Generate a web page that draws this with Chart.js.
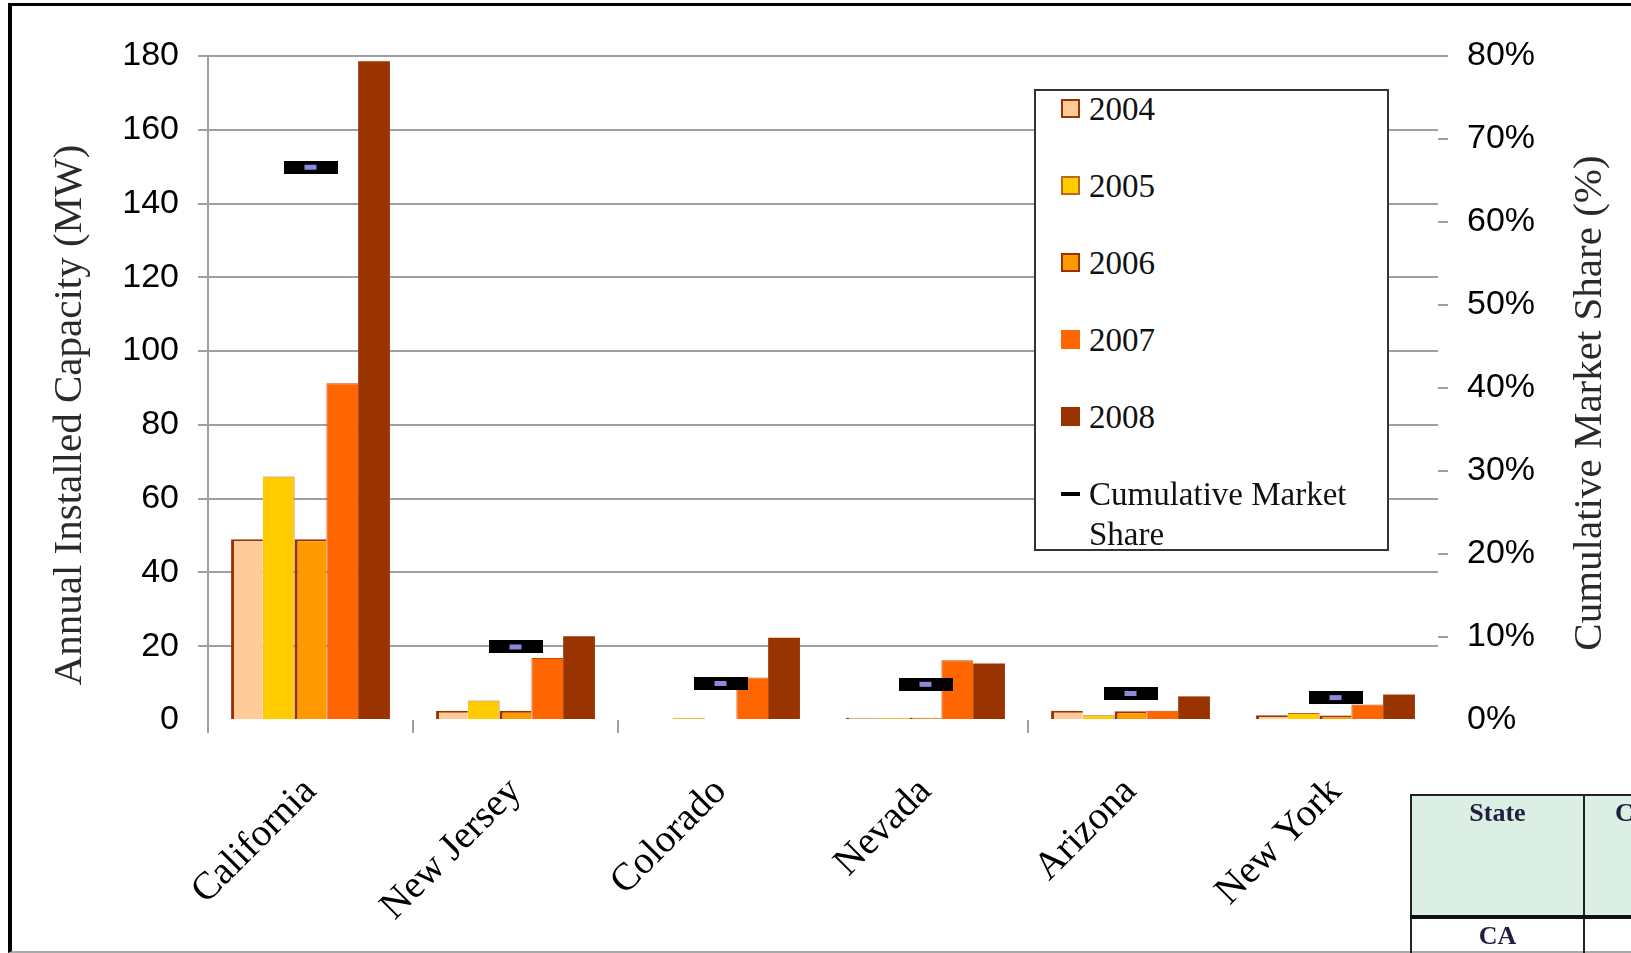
<!DOCTYPE html>
<html>
<head>
<meta charset="utf-8">
<title>Annual Installed Capacity and Cumulative Market Share by State</title>
<script src="https://cdn.jsdelivr.net/npm/chart.js@4.4.0/dist/chart.umd.min.js"></script>
<style>
    html, body { margin: 0; padding: 0; background: #fff; overflow: hidden; }
    #page { position: relative; width: 1631px; height: 953px; overflow: hidden; }
    #frame {
        position: absolute; left: 8px; top: 3px; width: 1700px; height: 945px;
        border-left: 4px solid #000; border-top: 3px solid #000; border-bottom: 2px solid #aaa;
    }
    #chart { position: absolute; left: 0; top: 0; }

    /* legend box sits inside the plot, over the gridlines */
    #legend {
        position: absolute; left: 1034px; top: 89px; width: 351px; height: 458px;
        border: 2px solid #333; background: #fff;
        font-family: 'Liberation Serif', 'Times New Roman', serif; font-size: 33px; color: #111;
    }
    .legend-item { position: absolute; left: 25px; display: flex; align-items: flex-start; }
    .legend-swatch { width: 19px; height: 19px; box-sizing: border-box; margin-top: 10px; margin-right: 9px; flex: none; }
    .legend-line { width: 19px; height: 4px; margin-top: 18px; margin-right: 9px; background: #000; flex: none; }
    .legend-label { line-height: 40px; width: 280px; }

    /* start of the state table below the chart */
    #stateTable {
        position: absolute; left: 1410px; top: 794px; width: 373px; border-collapse: collapse;
        font-family: 'Liberation Serif', 'Times New Roman', serif; font-weight: bold;
        font-size: 26px; color: #1f1f3f; table-layout: fixed;
    }
    #stateTable td { border: 2px solid #222; text-align: center; vertical-align: top; padding: 2px 0 0 0; }
    #stateTable tr.head td { background: #dcefe5; height: 117px; border-bottom: 4px solid #111; }
    #stateTable tr.row td { height: 40px; }
    #stateTable td.cut { text-align: left; padding-left: 30px; }
</style>
</head>
<body>
<div id="page">
    <div id="frame"></div>
    <canvas id="chart" width="1631" height="953"></canvas>
    <div id="legend"></div>
    <table id="stateTable">
        <colgroup><col style="width:173px"><col style="width:200px"></colgroup>
        <tr class="head"><td>State</td><td class="cut">C</td></tr>
        <tr class="row"><td>CA</td><td></td></tr>
    </table>
</div>
<script>
// ---- data -------------------------------------------------------------
const categories = ['California', 'New Jersey', 'Colorado', 'Nevada', 'Arizona', 'New York'];
const years = ['2004', '2005', '2006', '2007', '2008'];

// annual installed capacity, MW
const capacity2004 = [49, 2.5, 0, 0.6, 2.5, 1.3];
const capacity2005 = [66, 5.3, 0.6, 0.6, 1.3, 1.9];
const capacity2006 = [49, 2.5, 0, 0.6, 2.4, 1.2];
const capacity2007 = [91.3, 16.8, 11.5, 16.2, 2.5, 4.2];
const capacity2008 = [178.6, 22.7, 22.3, 15.3, 6.4, 6.9];

// cumulative market share, %
const marketShare = [66.6, 8.8, 4.4, 4.3, 3.2, 2.7];

// axis ticks
const capacityTicks = [0, 20, 40, 60, 80, 100, 120, 140, 160, 180];
const shareTicks = [0, 10, 20, 30, 40, 50, 60, 70, 80];

// ---- styles -----------------------------------------------------------
const GRID_GREY = '#a0a0a0';
const SERIF = "'Liberation Serif', 'Times New Roman', serif";
const SANS = "'Liberation Sans', Arial, sans-serif";

const barStyles = [
    { fill: '#ffcc99', border: '#993300', width: { top: 2, left: 3, right: 0, bottom: 0 } },
    { fill: '#ffcc00', border: '#c0651a', width: { top: 1, left: 0, right: 1, bottom: 0 } },
    { fill: '#ff9900', border: '#993300', width: { top: 2, left: 3, right: 0, bottom: 0 } },
    { fill: '#ff6600', border: '#cc4400', width: { top: 1, left: 1, right: 0, bottom: 0 } },
    { fill: '#993300', border: '#993300', width: 0 }
];

/**
 * Black dash with a small lavender core, used as the market share marker
 */
function makeShareMarker() {
    const c = document.createElement('canvas');
    c.width = 54;
    c.height = 13;
    const g = c.getContext('2d');
    g.fillStyle = '#000';
    g.fillRect(0, 0, 54, 13);
    g.fillStyle = '#8a8ad8';
    g.fillRect(21, 4, 12, 5);
    return c;
}

/**
 * Rotated axis titles, placed off-centre like the original layout
 */
const axisTitlePlugin = {
    id: 'axisTitles',
    afterDraw(chart, args, opts) {
        const ctx = chart.ctx;
        opts.items.forEach(item => {
            ctx.save();
            ctx.translate(item.x, item.y);
            ctx.rotate(-Math.PI / 2);
            ctx.font = opts.font;
            ctx.fillStyle = opts.color;
            ctx.textAlign = 'center';
            ctx.textBaseline = 'middle';
            ctx.fillText(item.text, 0, 0);
            ctx.restore();
        });
    }
};

const capacitySeries = [capacity2004, capacity2005, capacity2006, capacity2007, capacity2008];

const barDatasets = capacitySeries.map((values, i) => ({
    type: 'bar',
    label: years[i],
    data: values,
    yAxisID: 'y',
    order: 1,
    backgroundColor: barStyles[i].fill,
    borderColor: barStyles[i].border,
    borderWidth: barStyles[i].width,
    borderSkipped: false,
    categoryPercentage: 0.775,
    barPercentage: 1.0
}));

const shareDataset = {
    type: 'line',
    label: 'Cumulative Market Share',
    data: marketShare,
    yAxisID: 'y1',
    order: 0,
    showLine: false,
    pointStyle: makeShareMarker(),
    pointRadius: 6,
    borderColor: '#000',
    backgroundColor: '#000'
};

const gridNoZero = ctx => (ctx.tick && ctx.tick.value === 0) ? 'transparent' : GRID_GREY;
// category boundaries that carry a small tick below the axis
const boundaryTicks = [0, 1, 2, 4];

const chart = new Chart(document.getElementById('chart'), {
    data: {
        labels: categories,
        datasets: [...barDatasets, shareDataset]
    },
    options: {
        responsive: false,
        animation: false,
        events: [],
        devicePixelRatio: 1,
        layout: { padding: { top: 56, left: 0, right: 0, bottom: 0 } },
        plugins: {
            legend: { display: false },
            tooltip: { enabled: false },
            axisTitles: {
                font: '41px ' + SERIF,
                color: '#2a2a2a',
                items: [
                    { text: 'Annual Installed Capacity (MW)', x: 70, y: 415 },
                    { text: 'Cumulative Market Share (%)', x: 1590, y: 403 }
                ]
            }
        },
        scales: {
            x: {
                offset: true,
                grid: {
                    offset: true,
                    drawOnChartArea: false,
                    drawTicks: true,
                    tickLength: 13,
                    lineWidth: 2,
                    color: ctx => boundaryTicks.includes(ctx.index) ? GRID_GREY : 'transparent'
                },
                border: { display: false },
                ticks: {
                    autoSkip: false,
                    maxRotation: 45,
                    minRotation: 45,
                    padding: 36,
                    color: '#000',
                    font: { family: SERIF, size: 39 }
                },
                afterFit: scale => { scale.height = 233; }
            },
            y: {
                position: 'left',
                min: capacityTicks[0],
                max: capacityTicks[capacityTicks.length - 1],
                afterBuildTicks: scale => { scale.ticks = capacityTicks.map(v => ({ value: v })); },
                grid: { color: gridNoZero, lineWidth: 2, tickLength: 10 },
                border: { display: true, color: GRID_GREY, width: 2 },
                ticks: {
                    padding: 19,
                    color: '#000',
                    font: { family: SANS, size: 34 }
                },
                afterFit: scale => { scale.width = 208; }
            },
            y1: {
                position: 'right',
                min: shareTicks[0],
                max: shareTicks[shareTicks.length - 1],
                afterBuildTicks: scale => { scale.ticks = shareTicks.map(v => ({ value: v })); },
                grid: { drawOnChartArea: false, color: gridNoZero, lineWidth: 2, tickLength: 10 },
                border: { display: false },
                ticks: {
                    padding: 19,
                    color: '#000',
                    font: { family: SANS, size: 34 },
                    callback: v => v + '%'
                },
                afterFit: scale => { scale.width = 193; }
            }
        }
    },
    plugins: [axisTitlePlugin]
});

/**
 * Build the boxed legend from the chart's own datasets
 */
function renderLegend(chart) {
    const box = document.getElementById('legend');
    chart.data.datasets.forEach((ds, i) => {
        const item = document.createElement('div');
        item.className = 'legend-item';
        item.style.top = (-2 + 77 * i) + 'px';

        const mark = document.createElement('div');
        if (ds.type === 'bar') {
            mark.className = 'legend-swatch';
            mark.style.background = ds.backgroundColor;
            if (i !== 3 && i !== 4) {
                mark.style.border = '2px solid ' + ds.borderColor;
            }
        } else {
            mark.className = 'legend-line';
        }

        const label = document.createElement('div');
        label.className = 'legend-label';
        label.textContent = ds.label;

        item.appendChild(mark);
        item.appendChild(label);
        box.appendChild(item);
    });
}

renderLegend(chart);
</script>
</body>
</html>
